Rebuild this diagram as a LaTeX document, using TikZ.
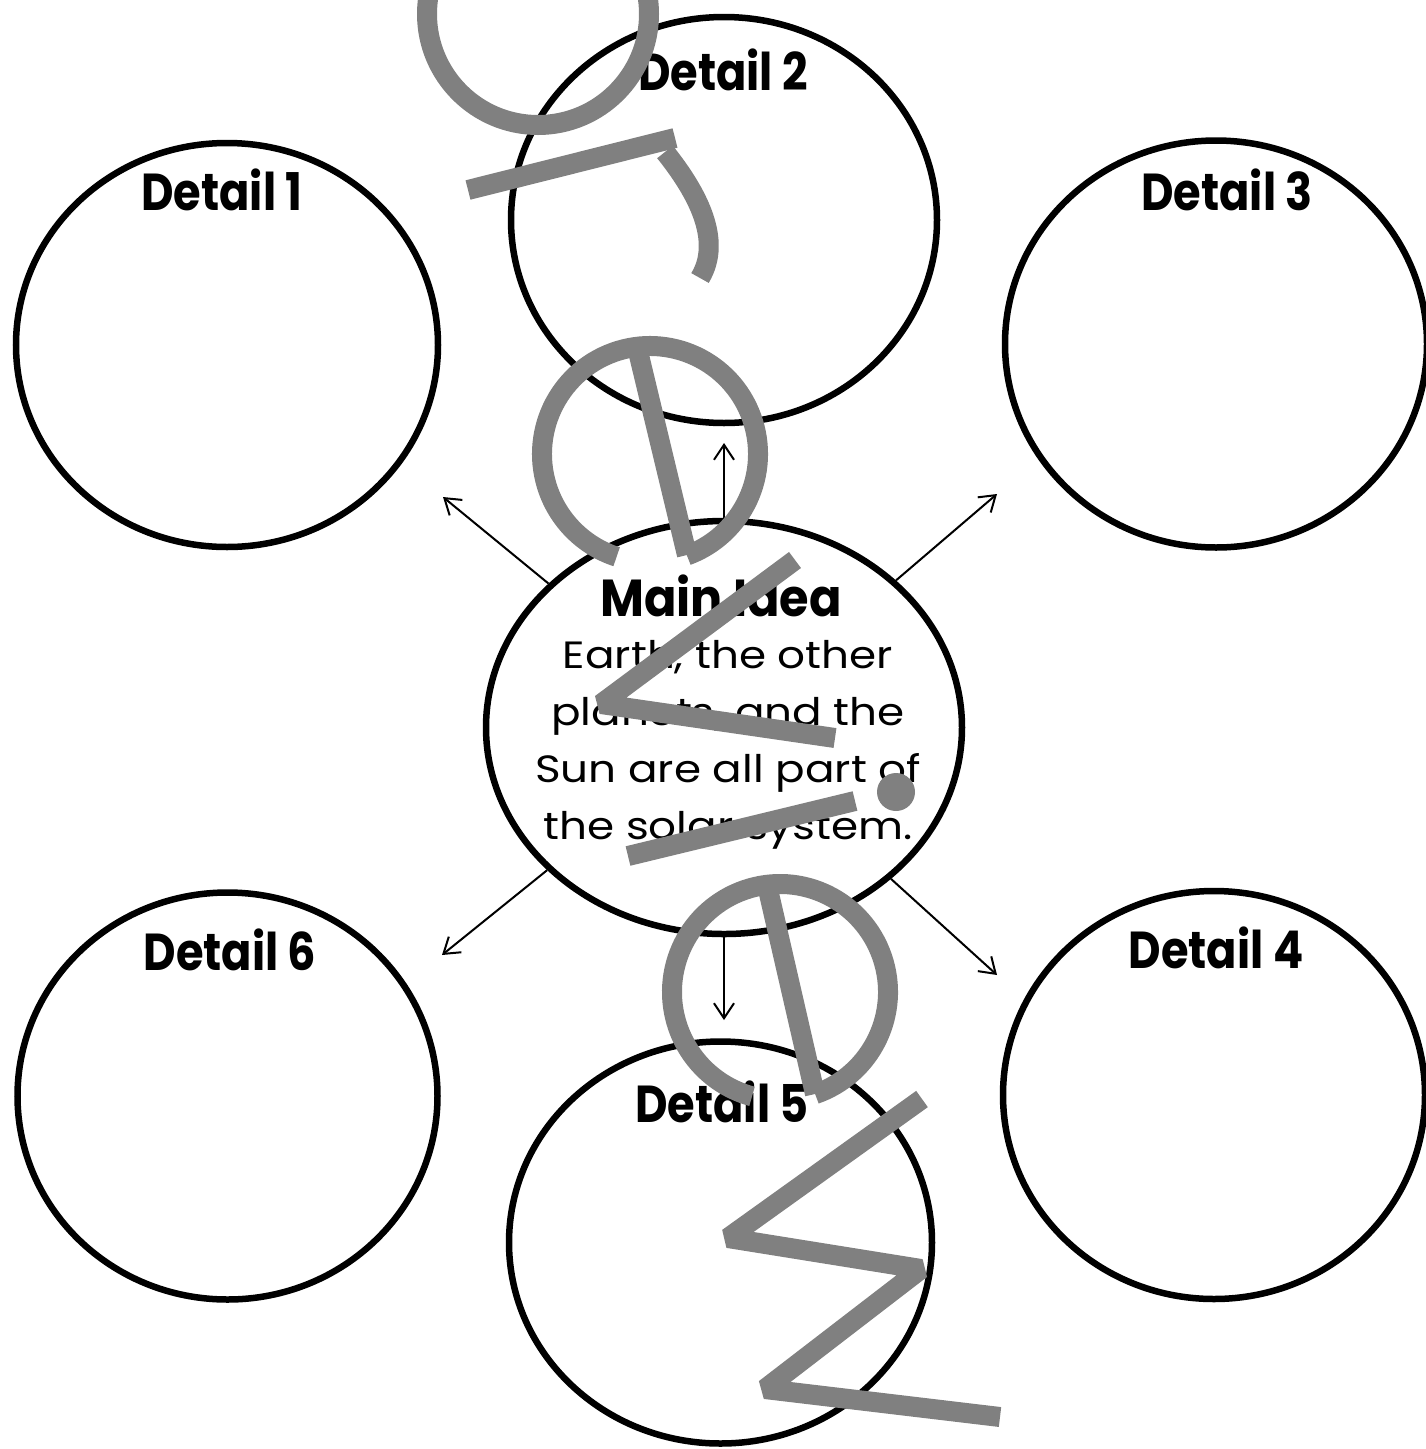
\documentclass[tikz,border=0pt]{standalone}
\usepackage{fontspec}
\setmainfont{Poppins}
\usepackage{graphicx}
\usetikzlibrary{shapes.geometric,arrows.meta}
\definecolor{wmgray}{RGB}{128,128,128}
\newcommand{\hdtext}[1]{\scalebox{0.86}[1]{#1}}
\newcommand{\bdline}[1]{\scalebox{1.15}[1]{#1}}
\tikzset{
  bubble/.style={draw, line width=6.5pt, ellipse, inner sep=0pt},
  hd/.style={font=\fontsize{52}{60}\selectfont\bfseries, inner sep=0pt},
  body/.style={font=\fontsize{38}{57}\selectfont, inner sep=0pt, align=center},
  link/.style={line width=2pt, -{Straight Barb[length=15pt,width=20pt]}},
  wm/.style={draw=wmgray, line width=20pt, line join=bevel},
}
\begin{document}
\begin{tikzpicture}[x=1pt,y=1pt]
\useasboundingbox (0,0) rectangle (1425,-1449);
\fill[white] (0,0) rectangle (1425,-1449);
% circles
\node[bubble, minimum width=422pt, minimum height=404pt] (d1) at (227,-345) {};
\node[bubble, minimum width=426pt, minimum height=406pt] (d2) at (724,-220) {};
\node[bubble, minimum width=422pt, minimum height=407pt] (d3) at (1216,-344) {};
\node[bubble, minimum width=476pt, minimum height=413pt] (main) at (724,-727.5) {};
\node[bubble, minimum width=420pt, minimum height=407pt] (d6) at (227.5,-1096) {};
\node[bubble, minimum width=423pt, minimum height=402pt] (d5) at (720.5,-1242.5) {};
\node[bubble, minimum width=422pt, minimum height=408pt] (d4) at (1214,-1095) {};
% labels
\node[hd] (t1) at (222,-190) {\hdtext{Detail 1}};
\node[hd] (t2) at (723,-70) {\hdtext{Detail 2}};
\node[hd] (t3) at (1227,-190) {\hdtext{Detail 3}};
\node[hd] (t6) at (230,-950) {\hdtext{Detail 6}};
\node[hd] (t4) at (1216,-948) {\hdtext{Detail 4}};
\node[hd] (t5) at (722,-1102) {\hdtext{Detail 5}};
\node[hd] (tm) at (721,-596) {\scalebox{0.92}[1]{Main Idea}};
\node[body] (tb) at (728,-745) {\bdline{Earth, the other}\\\bdline{planets, and the}\\\bdline{Sun are all part of}\\\bdline{the solar system.}};
% arrow tips
\coordinate (a1) at (443,-497);
\coordinate (a2) at (724,-443);
\coordinate (a3) at (997,-494);
\coordinate (a4) at (997,-975);
\coordinate (a5) at (724,-1020);
\coordinate (a6) at (442,-955);
\draw[link] (main) -- (a1);
\draw[link] (main) -- (a2);
\draw[link] (main) -- (a3);
\draw[link] (main) -- (a4);
\draw[link] (main) -- (a5);
\draw[link] (main) -- (a6);
% watermark
\draw[wm] (538,-14) circle[radius=111];
\draw[wm] (468,-190) -- (675,-138);
\draw[wm] (665,-152) .. controls (697,-192) and (723,-240) .. (700,-278);
\draw[wm] (650,-454) ++(-70:108) arc[start angle=-70,end angle=252,radius=108];
\draw[wm] (637,-347) -- (687,-555);
\draw[wm] (795,-560) -- (601,-704) -- (835,-738);
\fill[wmgray] (896,-792) circle[radius=19];
\draw[wm] (855,-801) -- (628,-856);
\draw[wm] (780,-992) ++(-71:108) arc[start angle=-71,end angle=255,radius=108];
\draw[wm] (767,-885) -- (815,-1094);
\draw[wm] (922,-1099) -- (728,-1238) -- (921,-1269) -- (765,-1389) -- (1000,-1417);
\end{tikzpicture}
\end{document}
